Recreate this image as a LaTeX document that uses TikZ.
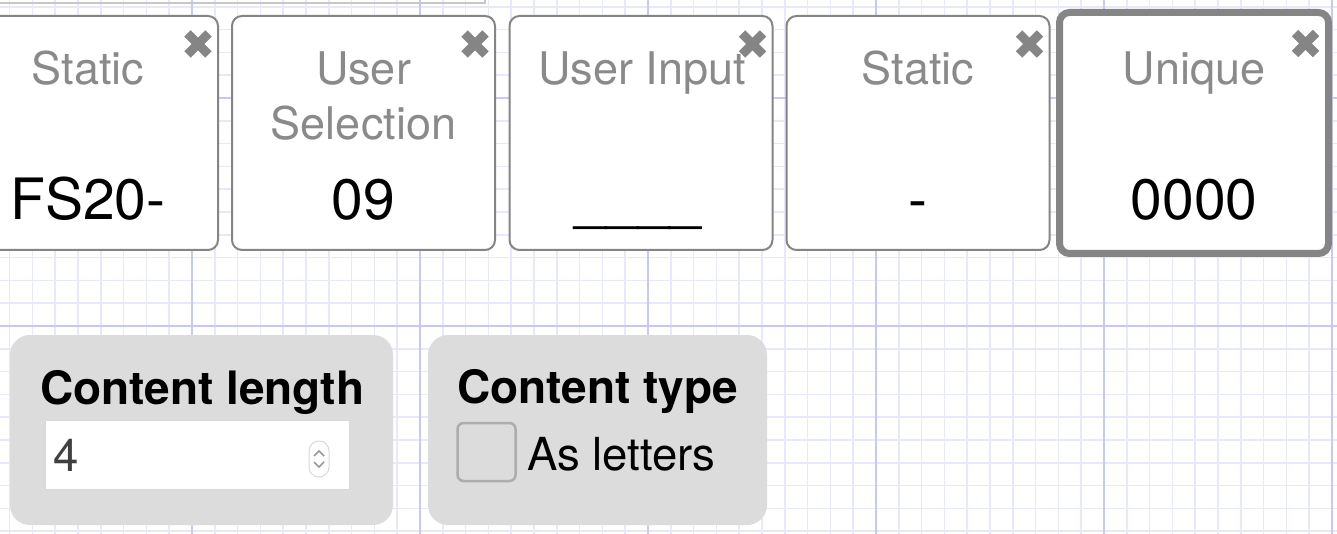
\documentclass[tikz,border=0pt]{standalone}
\usepackage{fontspec}
\setmainfont{TeX Gyre Heros}
\usepackage{tikz}

\definecolor{gridminor}{HTML}{E8E8FC}
\definecolor{gridmajor}{HTML}{C8C8F5}
\definecolor{cardgray}{HTML}{858585}
\definecolor{titlegray}{HTML}{8A8A8A}
\definecolor{panelgray}{HTML}{DCDCDC}

\newcommand{\closemark}[1]{%
  \draw[closex] ([shift={(-10.5,-10.5)}]#1) -- ([shift={(10.5,10.5)}]#1);
  \draw[closex] ([shift={(10.5,-10.5)}]#1) -- ([shift={(-10.5,10.5)}]#1);}

\begin{document}
\begin{tikzpicture}[x=1pt,y=-1pt,
  every node/.style={inner sep=0pt, outer sep=0pt},
  card/.style={draw=cardgray, line width=2pt, rounded corners=10pt, fill=white, minimum width=263pt, minimum height=234pt},
  selcard/.style={card, line width=7pt, minimum width=269pt, minimum height=241pt},
  cardtitle/.style={anchor=base, text=titlegray, align=center, font=\fontsize{45}{55}\selectfont},
  cardvalue/.style={anchor=base, text=black, font=\fontsize{57}{65}\selectfont},
  closex/.style={draw=cardgray, line width=9pt},
  panel/.style={fill=panelgray, rounded corners=20pt, minimum width=383pt, minimum height=190pt},
  panelhead/.style={anchor=base west, font=\bfseries\fontsize{46}{55}\selectfont},
  paneltext/.style={anchor=base west, font=\fontsize{45.5}{55}\selectfont}]
\useasboundingbox (0,0) rectangle (1337,534);
\clip (0,0) rectangle (1337,534);
\fill[white] (0,0) rectangle (1337,534);

\foreach \gx in {9.6,32.4,...,1340} \draw[gridminor, line width=1.5pt] (\gx,0) -- (\gx,534);
\foreach \gy in {6.8,29.6,...,540} \draw[gridminor, line width=1.5pt] (0,\gy) -- (1337,\gy);
\foreach \gx in {192,420,648,876,1104,1332} \draw[gridmajor, line width=2pt] (\gx,0) -- (\gx,534);
\foreach \gy in {98,326} \draw[gridmajor, line width=2pt] (0,\gy) -- (1337,\gy);

\draw[color=black!22, line width=1.5pt] (-10,-20) rectangle (485,3);

\node[card] (card1) at (86.5,133) {};
\node[card] (card2) at (363.5,133) {};
\node[card] (card3) at (641,133) {};
\node[card] (card4) at (918,133) {};
\node[selcard] (card5) at (1194,133) {};

\node[cardtitle] (title1) at (88,85) {Static};
\node[cardtitle] (title2) at (363.5,140) {User\\Selection};
\node[cardtitle] (title3) at (642,85) {User Input};
\node[cardtitle] (title4) at (918,85) {Static};
\node[cardtitle] (title5) at (1194,85) {Unique};

\node[cardvalue] (value1) at (88,220) {FS20-};
\node[cardvalue] (value2) at (363.5,220) {09};
\node[cardvalue] (value3) at (638,220) {\_\_\_\_};
\node[cardvalue] (value4) at (918,220) {-};
\node[cardvalue] (value5) at (1194,220) {0000};

\coordinate (shut1) at ([shift={(-20,28)}]card1.north east);
\coordinate (shut2) at ([shift={(-20,28)}]card2.north east);
\coordinate (shut3) at ([shift={(-20,28)}]card3.north east);
\coordinate (shut4) at ([shift={(-20,28)}]card4.north east);
\coordinate (shut5) at ([shift={(-23,31)}]card5.north east);
\closemark{shut1}
\closemark{shut2}
\closemark{shut3}
\closemark{shut4}
\closemark{shut5}

\node[panel] (lengthpanel) at (201.5,430) {};
\node[panel, minimum width=339pt] (typepanel) at (597.5,430) {};

\node[panelhead] (lengthhead) at (40,404) {Content length};
\node[fill=white, draw=black!15, line width=1pt, minimum width=304pt, minimum height=69pt] (lengthfield) at (197,454.5) {};
\node[paneltext, text=black!75] (lengthvalue) at (53,471) {4};
\node[draw=black!15, line width=1pt, rounded corners=10pt, minimum width=20pt, minimum height=36pt] (spin) at (319,459) {};
\draw[black!40, line width=1.5pt] ([shift={(-5,-3)}]spin.center) -- ([shift={(0,-8)}]spin.center) -- ([shift={(5,-3)}]spin.center);
\draw[black!40, line width=1.5pt] ([shift={(-5,3)}]spin.center) -- ([shift={(0,8)}]spin.center) -- ([shift={(5,3)}]spin.center);

\node[panelhead] (typehead) at (457,403) {Content type};
\node[draw=black!32, line width=2.5pt, rounded corners=6pt, minimum size=58pt] (asbox) at (486.5,452) {};
\node[paneltext] (astext) at (527,470) {As letters};
\end{tikzpicture}
\end{document}
